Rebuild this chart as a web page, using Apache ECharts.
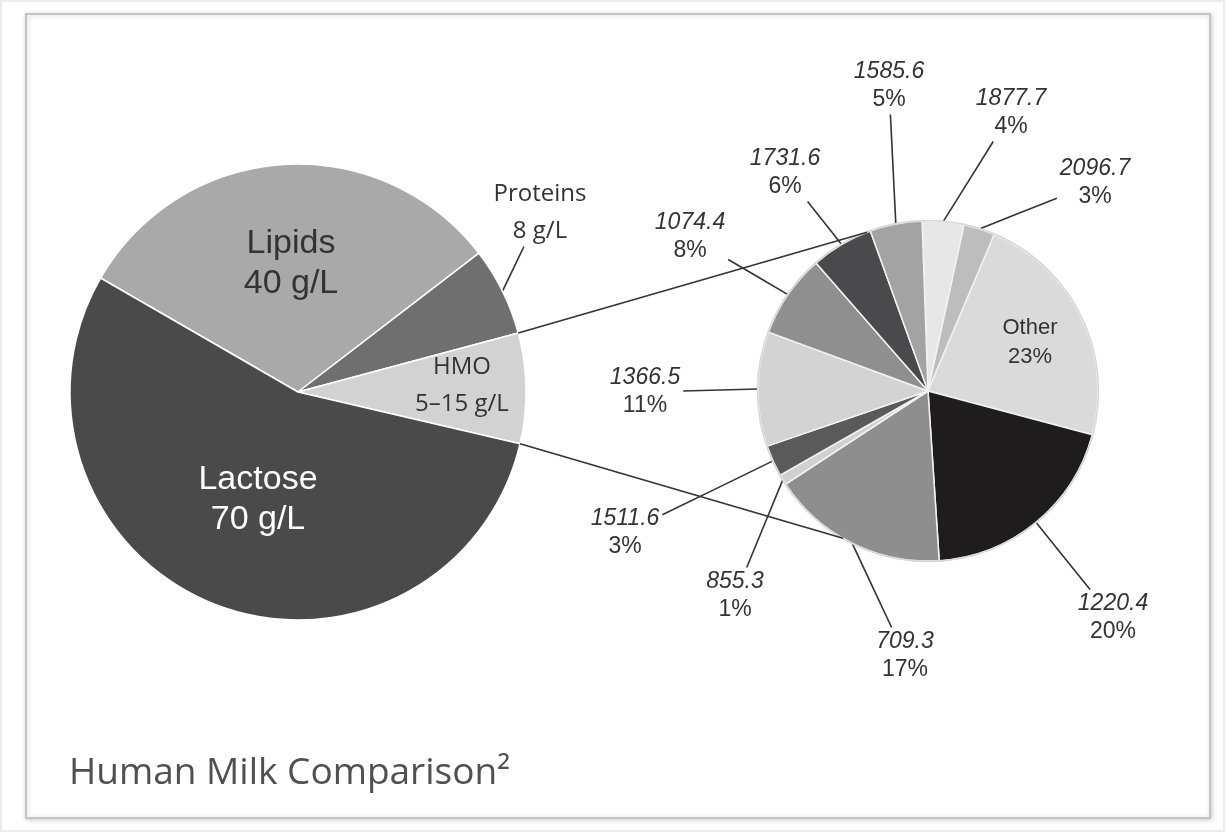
<!DOCTYPE html>
<html>
<head>
<meta charset="utf-8">
<script src="https://cdn.jsdelivr.net/npm/echarts@6/dist/echarts.min.js"></script>
<style>
  html, body { margin: 0; padding: 0; background: #ffffff; }
  #chart { width: 1226px; height: 833px; }
</style>
</head>
<body>
<div id="chart"></div>
<script>
// Main components of human milk
const componentNames = ['Lipids', 'Proteins', 'HMO', 'Lactose'];
const componentValues = [40, 8, 10, 70];
const componentAmounts = ['40 g/L', '8 g/L', '5–15 g/L', '70 g/L'];

// HMO breakdown by mass, share in percent
const hmoNames = ['1877.7', '2096.7', 'Other', '1220.4', '709.3', '855.3', '1511.6', '1366.5', '1074.4', '1731.6', '1585.6'];
const hmoShares = [4, 3, 23, 20, 17, 1, 3, 11, 8, 6, 5];

const titleText = 'Human Milk Comparison²';

// ---- geometry & styling ----
const LEFT = { cx: 298, cy: 392, r: 228, start: 150 };
const RIGHT = { cx: 928, cy: 391, r: 170, start: 92 };

const leftColors = ['#a9a9a9', '#6f6f6f', '#d2d2d2', '#4a4a4a'];
const leftLabelPos = [[291, 264], [540, 213], [462, 386], [258, 500]];
const leftLabelStyle = ['big', 'cal', 'cal', 'bigw'];
const leftWithLine = [false, true, false, false];

const rightColors = ['#e7e7e7', '#bdbdbd', '#dadada', '#1f1c1d', '#8e8e8e', '#d0d0d0',
                     '#5a5a5a', '#d3d3d3', '#8f8f8f', '#4a4a4c', '#a3a3a3'];
const rightLabelPos = [[1011, 113], [1095, 183], [1030, 342], [1113, 618], [905, 656], [735, 596],
                       [625, 533], [645, 392], [690, 237], [785, 173], [889, 86]];

const INK = '#333333';

// angle (deg, counter-clockwise from 3 o'clock) of a point along the pie, clockwise from start
function angleAt(geom, values, cumValue) {
  const total = values.reduce((a, b) => a + b, 0);
  return geom.start - 360 * cumValue / total;
}
function pointAt(geom, deg, rad) {
  const a = deg * Math.PI / 180;
  return [geom.cx + rad * Math.cos(a), geom.cy - rad * Math.sin(a)];
}
function midPoint(geom, values, i) {
  const cum = values.slice(0, i).reduce((a, b) => a + b, 0) + values[i] / 2;
  return pointAt(geom, angleAt(geom, values, cum), geom.r);
}

// place each label at its spot; leader runs from the slice rim to the label box
function makeLabelLayout(geom, values, positions, withLine) {
  return function (params) {
    const i = params.dataIndex;
    const x = positions[i][0], y = positions[i][1];
    const out = { x: x, y: y, align: 'center', verticalAlign: 'middle' };
    if (withLine(i)) {
      const p0 = midPoint(geom, values, i);
      const hw = params.labelRect.width / 2 + 3;
      const hh = params.labelRect.height / 2 + 3;
      const dx = p0[0] - x, dy = p0[1] - y;
      const t = Math.min(dx ? hw / Math.abs(dx) : Infinity, dy ? hh / Math.abs(dy) : Infinity);
      const end = [x + dx * t, y + dy * t];
      const mid = [(p0[0] + end[0]) / 2, (p0[1] + end[1]) / 2];
      out.labelLinePoints = [p0, mid, end];
    }
    return out;
  };
}

const leftData = componentNames.map((name, i) => ({
  name: name,
  value: componentValues[i],
  itemStyle: { color: leftColors[i] },
  label: {
    formatter: '{' + leftLabelStyle[i] + '|' + name + '}\n{' + leftLabelStyle[i] + '|' + componentAmounts[i] + '}'
  },
  labelLine: { show: leftWithLine[i] }
}));

const rightData = hmoNames.map((name, i) => {
  const isOther = name === 'Other';
  return {
    name: name,
    value: hmoShares[i],
    itemStyle: { color: rightColors[i] },
    label: {
      formatter: isOther
        ? '{o|' + name + '}\n{o|' + hmoShares[i] + '%}'
        : '{v|' + name + '}\n{p|' + hmoShares[i] + '%}'
    },
    labelLine: { show: !isOther }
  };
});

const option = {
  backgroundColor: '#ffffff',
  animation: false,
  title: {
    text: titleText,
    left: 69,
    top: 755,
    padding: 0,
    textStyle: { fontFamily: 'Open Sans', fontSize: 37, fontWeight: 'normal', color: '#505050' }
  },
  graphic: {
    elements: [
      {
        type: 'rect', z: 0, silent: true,
        shape: { x: 1, y: 1, width: 1223, height: 830 },
        style: { fill: 'none', stroke: '#ececec', lineWidth: 2 }
      },
      {
        type: 'rect', z: 0, silent: true,
        shape: { x: 26, y: 14, width: 1184, height: 804 },
        style: { fill: '#ffffff', stroke: '#c4c4c4', lineWidth: 2,
                 shadowBlur: 5, shadowColor: 'rgba(0,0,0,0.18)', shadowOffsetX: 1, shadowOffsetY: 1 }
      }
    ]
  },
  series: [
    {
      type: 'pie',
      name: 'Components',
      center: [LEFT.cx, LEFT.cy],
      radius: LEFT.r,
      startAngle: LEFT.start,
      clockwise: true,
      avoidLabelOverlap: false,
      emphasis: { disabled: true },
      itemStyle: { borderColor: '#ffffff', borderWidth: 1.5 },
      label: {
        show: true,
        position: 'outside',
        rich: {
          big: { fontFamily: 'Liberation Sans', fontSize: 34, lineHeight: 40, color: INK, align: 'center' },
          bigw: { fontFamily: 'Liberation Sans', fontSize: 34, lineHeight: 40, color: '#ffffff', align: 'center' },
          cal: { fontFamily: 'Open Sans', fontSize: 24, lineHeight: 37, color: INK, align: 'center' }
        }
      },
      labelLine: { show: true, length: 10, length2: 10, lineStyle: { color: INK, width: 1.6 } },
      labelLayout: makeLabelLayout(LEFT, componentValues, leftLabelPos, i => leftWithLine[i]),
      data: leftData,
      z: 3
    },
    {
      type: 'pie',
      name: 'HMO',
      center: [RIGHT.cx, RIGHT.cy],
      radius: RIGHT.r,
      startAngle: RIGHT.start,
      clockwise: true,
      avoidLabelOverlap: false,
      emphasis: { disabled: true },
      itemStyle: { borderColor: '#f2f2f2', borderWidth: 1.5 },
      label: {
        show: true,
        position: 'outside',
        rich: {
          v: { fontFamily: 'Liberation Sans', fontStyle: 'italic', fontSize: 23, lineHeight: 28, color: INK, align: 'center' },
          p: { fontFamily: 'Liberation Sans', fontSize: 23, lineHeight: 28, color: INK, align: 'center' },
          o: { fontFamily: 'Liberation Sans', fontSize: 22, lineHeight: 29, color: INK, align: 'center' }
        }
      },
      labelLine: { show: true, length: 10, length2: 10, lineStyle: { color: INK, width: 1.6 } },
      labelLayout: makeLabelLayout(RIGHT, hmoShares, rightLabelPos, i => hmoNames[i] !== 'Other'),
      data: rightData,
      z: 3
    }
  ]
};

// connector lines from the HMO slice to the breakdown pie
(function addConnectors() {
  const hmoIdx = componentNames.indexOf('HMO');
  const before = componentValues.slice(0, hmoIdx).reduce((a, b) => a + b, 0);
  const aTop = angleAt(LEFT, componentValues, before);
  const aBot = angleAt(LEFT, componentValues, before + componentValues[hmoIdx]);
  const fromTop = pointAt(LEFT, aTop, LEFT.r);
  const fromBot = pointAt(LEFT, aBot, LEFT.r);
  const toTop = pointAt(RIGHT, 111, RIGHT.r);
  const toBot = pointAt(RIGHT, -120, RIGHT.r);
  [[fromTop, toTop], [fromBot, toBot]].forEach(seg => {
    option.graphic.elements.push({
      type: 'line', z: 10, silent: true,
      shape: { x1: seg[0][0], y1: seg[0][1], x2: seg[1][0], y2: seg[1][1] },
      style: { stroke: INK, lineWidth: 1.6 }
    });
  });
  // faint rim around the breakdown pie
  option.graphic.elements.push({
    type: 'circle', z: 9, silent: true,
    shape: { cx: RIGHT.cx, cy: RIGHT.cy, r: RIGHT.r + 0.5 },
    style: { fill: 'none', stroke: '#d6d6d6', lineWidth: 1.5 }
  });
})();

const chart = echarts.init(document.getElementById('chart'), null, { renderer: 'canvas' });
chart.setOption(option);
</script>
</body>
</html>
